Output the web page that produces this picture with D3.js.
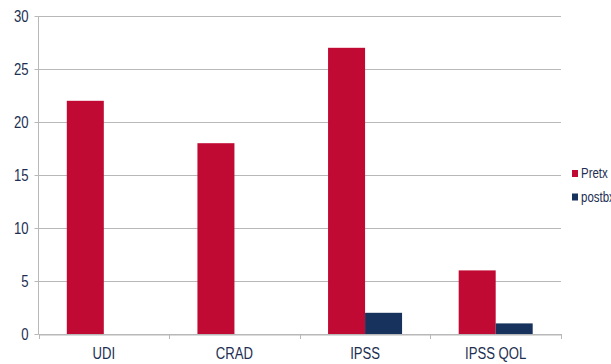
<!DOCTYPE html>
<html><head><meta charset="utf-8">
<script src="https://cdn.jsdelivr.net/npm/d3@7"></script>
<style>
html,body{margin:0;padding:0;background:#fff;overflow:hidden}
svg{display:block}
text{font-family:"Liberation Sans","Arial",sans-serif;fill:#1d2f52}
</style></head><body>
<svg id="c" width="611" height="364"></svg>
<script>
const categories = ["UDI", "CRAD", "IPSS", "IPSS QOL"];
const seriesNames = ["Pretx", "postbx"];
const pretx = [22, 18, 27, 6];
const postbx = [0, 0, 2, 1];
const yTicks = [0, 5, 10, 15, 20, 25, 30];
const colors = ["#c10a33", "#17325c"];

const svg = d3.select("#c");
const mLeft = 38.5, mRight = 561, mTop = 16, mBottom = 334;
const NARROW = 0.82;

const x = d3.scaleBand().domain(categories).range([mLeft, mRight]).paddingInner(0).paddingOuter(0);
const xs = d3.scaleBand().domain(seriesNames).range([0, x.bandwidth()]).paddingInner(0).paddingOuter(0.765);
const y = d3.scaleLinear().domain([0, 30]).range([mBottom, mTop]);

// gridlines
svg.append("g").selectAll("line").data(yTicks).join("line")
  .attr("x1", mLeft).attr("x2", mRight)
  .attr("y1", d => Math.round(y(d)) + 0.5).attr("y2", d => Math.round(y(d)) + 0.5)
  .attr("stroke", "#b8b8b8").attr("stroke-width", 1);

// bars
const data = categories.map((c, i) => ({c, vals: [pretx[i], postbx[i]]}));
const g = svg.append("g");
data.forEach(d => {
  d.vals.forEach((v, j) => {
    g.append("rect")
      .attr("x", x(d.c) + xs(seriesNames[j]))
      .attr("width", xs.bandwidth())
      .attr("y", y(v))
      .attr("height", y(0) - y(v))
      .attr("fill", colors[j]);
  });
});

function narrowText(sel) {
  sel.each(function () {
    const t = d3.select(this);
    const tx = +t.attr("x") || 0;
    t.attr("x", 0).attr("transform", `translate(${tx},0) scale(${NARROW},1)`);
  });
}

// y axis
const ya = svg.append("g").attr("transform", `translate(${mLeft},0)`)
  .call(d3.axisLeft(y).tickValues(yTicks).tickSize(4).tickPadding(6));
ya.select(".domain").attr("stroke", "#b8b8b8").attr("d", `M0,${mTop}V${mBottom+0.5}`);
ya.selectAll(".tick line").attr("stroke", "#b8b8b8");
ya.selectAll(".tick text").style("font-size", "16px").attr("fill", "#1d2f52")
  .style("font-family", '"Liberation Sans",Arial,sans-serif').call(narrowText);

// x axis
const xa = svg.append("g").attr("transform", `translate(0,${mBottom + 0.5})`)
  .call(d3.axisBottom(x).tickSize(0).tickPadding(13));
xa.select(".domain").attr("stroke", "#b8b8b8");
xa.selectAll(".tick text").style("font-size", "16px").attr("fill", "#1d2f52")
  .style("font-family", '"Liberation Sans",Arial,sans-serif').call(narrowText);
// category separators
const seps = categories.map(c => x(c)).concat([mRight]);
svg.append("g").selectAll("line").data(seps).join("line")
  .attr("x1", d => Math.round(d) + 0.5).attr("x2", d => Math.round(d) + 0.5)
  .attr("y1", mBottom).attr("y2", mBottom + 5)
  .attr("stroke", "#b8b8b8");

// legend
const lg = svg.append("g");
seriesNames.forEach((s, i) => {
  const yy = 173 + i * 23.5;
  lg.append("rect").attr("x", 572).attr("y", yy - 3).attr("width", 6).attr("height", 7).attr("fill", colors[i]);
  lg.append("text").attr("transform", `translate(581,${yy + 5}) scale(${NARROW},1)`).text(s).style("font-size", "14px");
});
</script>
</body></html>
